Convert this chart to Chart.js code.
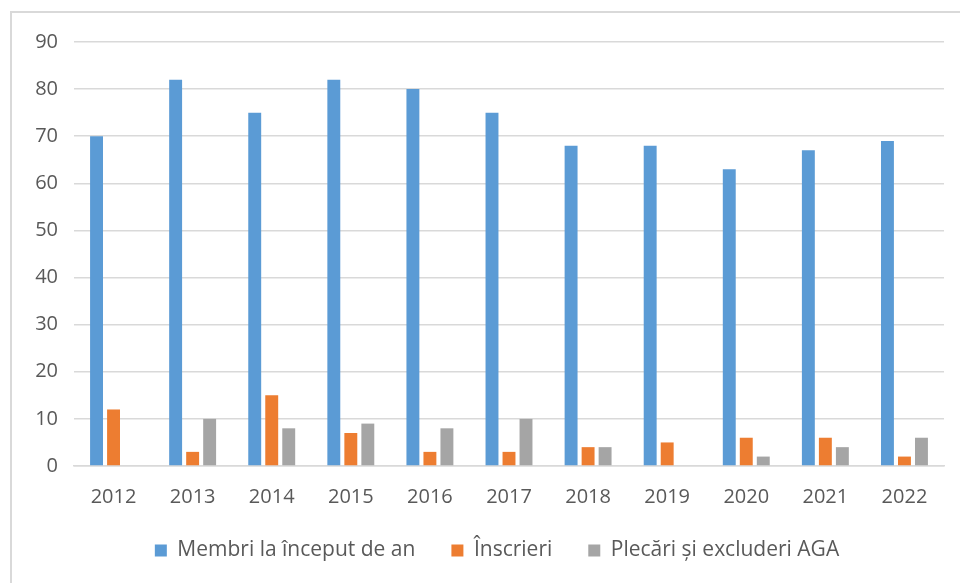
<!DOCTYPE html>
<html>
<head>
<meta charset="utf-8">
<script src="https://cdn.jsdelivr.net/npm/chart.js@4.4.0/dist/chart.umd.min.js"></script>
<style>
  html, body { margin: 0; padding: 0; background: #fff; overflow: hidden; }
  #wrap { position: relative; width: 960px; height: 583px; }
  #frame { position: absolute; left: 10px; top: 11px; width: 960px; height: 600px;
           border-top: 2px solid #d9d9d9; border-left: 2px solid #d9d9d9;
           pointer-events: none; }
</style>
</head>
<body>
<div id="wrap">
  <canvas id="membriChart" width="960" height="583"></canvas>
  <div id="frame"></div>
</div>
<script>
const ani = ['2012', '2013', '2014', '2015', '2016', '2017', '2018', '2019', '2020', '2021', '2022'];
const membri = [70, 82, 75, 82, 80, 75, 68, 68, 63, 67, 69];
const inscrieri = [12, 3, 15, 7, 3, 3, 4, 5, 6, 6, 2];
const plecari = [0, 10, 8, 9, 8, 10, 4, 0, 2, 4, 6];
const yTicks = [0, 10, 20, 30, 40, 50, 60, 70, 80, 90];

const font = "'Open Sans', 'Liberation Sans', sans-serif";

// legend in the original is centred a bit right of the canvas middle
const legendShift = {
    id: 'legendShift',
    afterLayout(chart) {
        chart.legend.left += 25;
        chart.legend.right += 25;
    }
};

new Chart(document.getElementById('membriChart').getContext('2d'), {
    type: 'bar',
    data: {
        labels: ani,
        datasets: [
            { label: 'Membri la început de an', data: membri, backgroundColor: '#5b9bd5' },
            { label: 'Înscrieri', data: inscrieri, backgroundColor: '#ed7d31' },
            { label: 'Plecări și excluderi AGA', data: plecari, backgroundColor: '#a5a5a5' }
        ]
    },
    options: {
        responsive: false,
        animation: false,
        layout: { padding: { top: 42, right: 16, bottom: 12, left: 0 } },
        datasets: { bar: { categoryPercentage: 0.645, barPercentage: 0.76 } },
        scales: {
            x: {
                afterFit: s => { s.height = 38; },
                grid: { display: false, drawTicks: false },
                border: { color: '#d9d9d9', width: 1.5 },
                ticks: { color: '#595959', font: { family: font, size: 20 }, padding: 19 }
            },
            y: {
                min: 0,
                max: 90,
                afterBuildTicks: s => { s.ticks = yTicks.map(v => ({ value: v })); },
                afterFit: s => { s.width = 74; },
                grid: { color: '#d9d9d9', lineWidth: 1.5, drawTicks: false },
                border: { display: false },
                ticks: { color: '#595959', font: { family: font, size: 20 }, padding: 16 }
            }
        },
        plugins: {
            tooltip: { enabled: false },
            legend: {
                position: 'bottom',
                labels: {
                    color: '#595959',
                    font: { family: font, size: 21 },
                    boxWidth: 12,
                    boxHeight: 12,
                    padding: 36
                }
            }
        }
    },
    plugins: [legendShift]
});
</script>
</body>
</html>
